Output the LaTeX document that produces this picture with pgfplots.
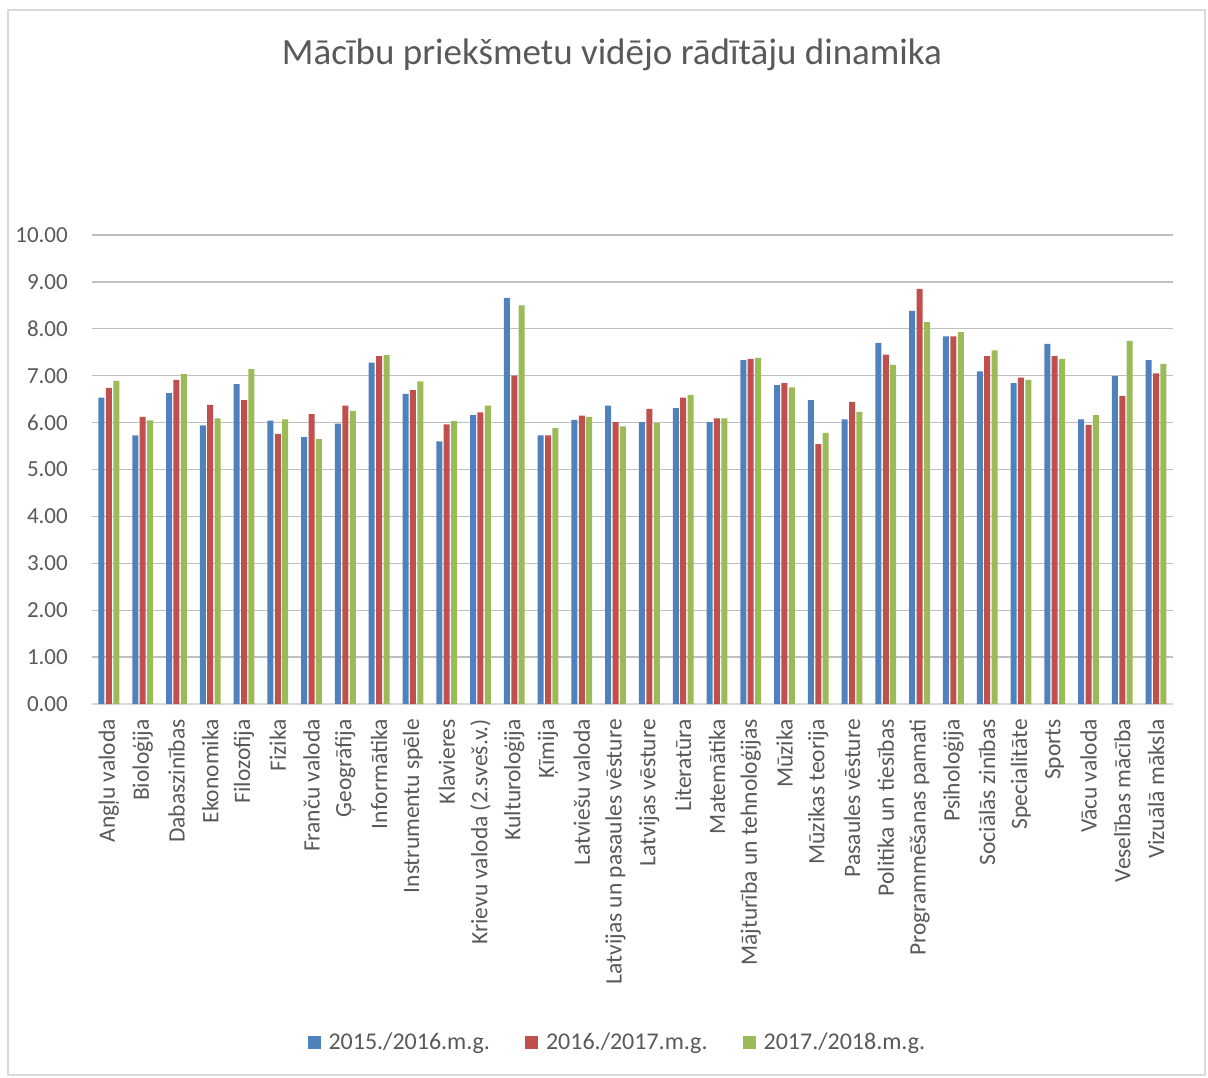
\documentclass[border=0pt]{standalone}
\usepackage{fontspec}
\setmainfont{Carlito}
\usepackage{pgfplots}
\usepackage{pgfplotstable}
\pgfplotsset{compat=1.18}

\definecolor{sA}{HTML}{4F81BD}
\definecolor{sB}{HTML}{C0504D}
\definecolor{sC}{HTML}{9BBB59}
\definecolor{txt}{HTML}{595959}
\definecolor{grid}{HTML}{D9D9D9}

% x: subject index, a/b/c: 2015/16, 2016/17, 2017/18
\pgfplotstableread{
x a b c
0 6.53 6.74 6.89
1 5.73 6.12 6.05
2 6.63 6.91 7.04
3 5.94 6.38 6.09
4 6.82 6.48 7.14
5 6.04 5.76 6.07
6 5.69 6.18 5.65
7 5.98 6.36 6.25
8 7.28 7.42 7.44
9 6.61 6.69 6.88
10 5.60 5.96 6.03
11 6.16 6.22 6.36
12 8.66 7.00 8.50
13 5.73 5.73 5.88
14 6.06 6.15 6.12
15 6.36 6.01 5.92
16 6.01 6.29 5.99
17 6.31 6.53 6.59
18 6.01 6.09 6.09
19 7.33 7.36 7.38
20 6.80 6.84 6.75
21 6.48 5.54 5.78
22 6.07 6.44 6.23
23 7.70 7.45 7.23
24 8.38 8.85 8.14
25 7.84 7.84 7.93
26 7.09 7.42 7.54
27 6.84 6.96 6.91
28 7.68 7.42 7.36
29 6.07 5.95 6.16
30 6.99 6.57 7.74
31 7.33 7.05 7.25
}\marks

\pgfplotsset{
  leg/.style={legend image code/.code={\fill[##1] (0pt,-6.5pt) rectangle (13pt,6.5pt);}},
}

\begin{document}
\begin{tikzpicture}[x=1pt,y=1pt]
\useasboundingbox (0,0) rectangle (1208,1077);
\draw[grid, line width=1.2pt] (8,2) rectangle (1205,1067);
\node[font=\fontsize{37}{44}\selectfont, text=txt] at (612,1022)
  {Mācību priekšmetu vidējo rādītāju dinamika};

\begin{axis}[
    at={(92pt,373pt)}, anchor=south west,
    scale only axis,
    width=1081pt, height=469pt,
    ybar=1.4pt,
    bar width=6pt,
    xmin=-0.5, xmax=31.5,
    ymin=0, ymax=10,
    enlarge x limits=false,
    ytick={0,1,...,10},
    xtick=data,
    xticklabels={Angļu valoda,Bioloģija,Dabaszinības,Ekonomika,Filozofija,Fizika,Franču valoda,Ģeogrāfija,Informātika,Instrumentu spēle,Klavieres,Krievu valoda (2.sveš.v.),Kulturoloģija,Ķīmija,Latviešu valoda,Latvijas un pasaules vēsture,Latvijas vēsture,Literatūra,Matemātika,Mājturība un tehnoloģijas,Mūzika,Mūzikas teorija,Pasaules vēsture,Politika un tiesības,Programmēšanas pamati,Psiholoģija,Sociālās zinības,Specialitāte,Sports,Vācu valoda,Veselības mācība,Vizuālā māksla},
    xticklabel style={rotate=90, anchor=east, font=\fontsize{23.5}{27}\selectfont, text=txt, inner sep=0pt},
    xticklabel shift=15pt,
    yticklabel style={font=\fontsize{23}{27}\selectfont, text=txt, inner sep=0pt},
    yticklabel shift=24pt,
    /pgf/number format/.cd, fixed, fixed zerofill, precision=2, assume math mode=true,
    /pgfplots/.cd,
    major tick length=0pt,
    tick style={draw=none},
    xmajorgrids=false,
    axis x line*=bottom,
    axis y line*=left,
    axis line style={-},
    x axis line style={draw=grid, line width=1.3pt},
    y axis line style={draw=none},
    ymajorgrids,
    major grid style={grid, line width=1.3pt},
    legend style={at={(0.486,-0.721)}, anchor=center, draw=none,
      font=\fontsize{24}{28}\selectfont, text=txt,
      legend columns=3,
      /tikz/every odd column/.append style={column sep=6pt},
      /tikz/every even column/.append style={column sep=33pt}},
    legend cell align=left,
]
\addplot[fill=sA, draw=none, leg] table[x=x, y=a] {\marks};
\addplot[fill=sB, draw=none, leg] table[x=x, y=b] {\marks};
\addplot[fill=sC, draw=none, leg] table[x=x, y=c] {\marks};
\legend{2015./2016.m.g., 2016./2017.m.g., 2017./2018.m.g.}
\end{axis}
\end{tikzpicture}
\end{document}
